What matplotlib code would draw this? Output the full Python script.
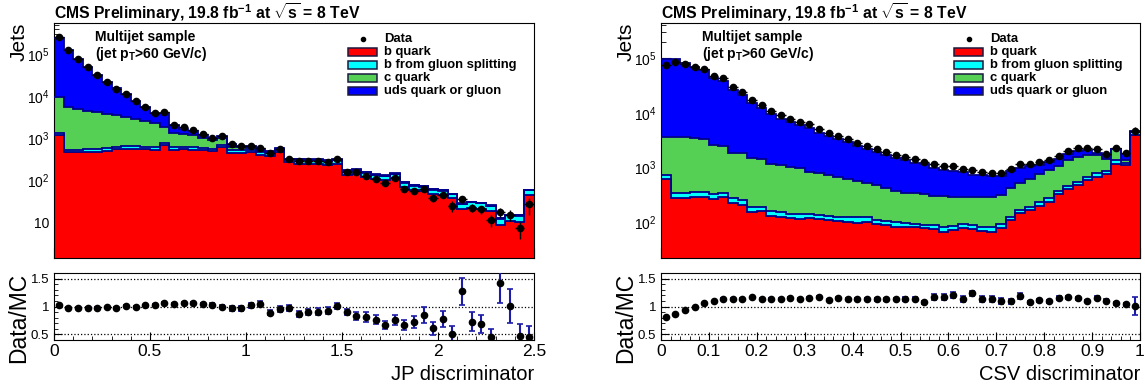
import numpy as np
import matplotlib
matplotlib.use('Agg')
import matplotlib.pyplot as plt
from matplotlib.patches import Rectangle
from matplotlib.ticker import MultipleLocator, FixedLocator, LogLocator, FuncFormatter, NullFormatter

plt.rcParams['font.family'] = ['Liberation Sans', 'DejaVu Sans']
plt.rcParams['mathtext.fontset'] = 'custom'
plt.rcParams['mathtext.rm'] = 'Liberation Sans:bold'
plt.rcParams['mathtext.it'] = 'Liberation Sans:bold'
plt.rcParams['mathtext.bf'] = 'Liberation Sans:bold'

# ---- JP discriminator: 50 bins from 0 to 2.5 ----
jp_edges = np.linspace(0, 2.5, 51)
jp_b = [1175, 458, 456, 465, 472, 500, 537, 557, 557, 537,
        528, 670, 528, 537, 528, 509, 482, 600, 440, 450,
        455, 400, 375, 460, 270, 245, 240, 236, 228, 237,
        132, 140, 121, 106, 99, 110, 69, 59, 55, 47,
        44, 37, 20.5, 22, 21, 18, 8.6, 10.4, 10.2, 45]
jp_gsp = [165, 70, 72, 72, 75, 78, 85, 89, 89, 85,
          83, 106, 83, 85, 83, 80, 75, 95, 70, 70,
          70, 62, 58, 65, 38, 62, 61, 60, 58, 60,
          33, 35, 30, 27, 24, 28, 17, 15, 14, 12,
          11, 9, 6.5, 7.5, 7, 6, 3.4, 4, 4, 12.5]
jp_c = [8320, 4850, 4290, 3940, 3540, 3220, 2850, 2570, 2240, 1970,
        1710, 1094, 679, 598, 549, 411, 343, 305, 110, 80,
        60, 45, 40, 35, 5, 8, 8, 8, 7, 7,
        4, 4, 4, 3, 3, 3, 2, 2, 2, 2,
        2, 1, 0.5, 0.5, 0.5, 0.5, 0.3, 0.3, 0.3, 1]
jp_uds = [234000, 122600, 72800, 44500, 28100, 18300, 12000, 7880, 4810, 2910,
          1550, 2060, 710, 470, 300, 200, 85, 100, 113, 66,
          58, 33, 29, 26, 5, 7, 7, 7, 7, 7,
          4, 4, 3, 3, 3, 3, 2, 1, 1, 1,
          1, 1, 0.5, 0.5, 0.5, 0.5, 0.2, 0.3, 0.2, 0.5]
jp_ratio = [1.02, 0.98, 0.98, 0.98, 0.98, 0.99, 0.98, 1.01, 1.0, 1.02,
            1.035, 1.07, 1.05, 1.065, 1.065, 1.04, 1.035, 1.0, 0.965, 0.97,
            1.02, 1.05, 0.89, 0.95, 0.975, 0.865, 0.9, 0.905, 0.925, 1.01,
            0.9, 0.835, 0.81, 0.765, 0.665, 0.765, 0.67, 0.725, 0.845, 0.61,
            0.78, 0.505, 1.27, 0.73, 0.69, 0.45, 1.42, 1.01, 0.48, 0.45]
jp_ratio_err = [0.005, 0.005, 0.006, 0.007, 0.008, 0.009, 0.01, 0.011, 0.012, 0.013,
                0.015, 0.014, 0.018, 0.02, 0.02, 0.022, 0.025, 0.025, 0.045, 0.045,
                0.04, 0.045, 0.05, 0.055, 0.05, 0.06, 0.055, 0.06, 0.06, 0.06,
                0.06, 0.07, 0.09, 0.085, 0.075, 0.09, 0.09, 0.11, 0.14, 0.115,
                0.14, 0.15, 0.24, 0.17, 0.165, 0.15, 0.35, 0.3, 0.21, 0.2]

# ---- CSV discriminator: 50 bins from 0 to 1 ----
csv_edges = np.linspace(0, 1, 51)
csv_b = [603, 271, 271, 290, 290, 260, 282, 226, 205, 155,
         161, 129, 125, 118, 115, 117, 112, 109, 104, 100,
         98, 102, 91, 87, 82, 82, 80, 77, 75, 65,
         71, 77, 75, 69, 65, 77, 109, 144, 166, 199,
         235, 324, 401, 475, 586, 675, 755, 1180, 1090, 3900]
csv_gsp = [122, 73, 73, 66, 66, 65, 62, 45, 47, 30,
           29, 30, 25, 22, 25, 23, 22, 20, 21, 22,
           24, 23, 18, 17, 19, 13, 13, 12, 14, 15,
           13, 16, 14, 13, 15, 16, 16, 22, 25, 30,
           36, 50, 61, 71, 89, 102, 113, 180, 120, 520]
csv_c = [2915, 3246, 3196, 3084, 2984, 2235, 2136, 1579, 1548, 1275,
         1210, 1021, 980, 860, 820, 694, 666, 596, 550, 481,
         448, 384, 366, 309, 274, 246, 241, 234, 216, 216,
         203, 190, 194, 201, 210, 219, 288, 343, 412, 526,
         623, 696, 898, 978, 1005, 903, 532, 773, 150, 120]
csv_uds = [91360, 94110, 77960, 65260, 57660, 40440, 35820, 24050, 19700, 13540,
           10900, 8380, 6700, 5660, 5090, 4476, 3450, 3045, 2625, 2357,
           1900, 1681, 1465, 1267, 1105, 1003, 894, 824, 674, 604,
           587, 539, 441, 431, 414, 394, 443, 457, 453, 371,
           355, 351, 371, 467, 402, 186, 209, 27, 422, 100]
csv_ratio = [0.805, 0.865, 0.94, 0.995, 1.06, 1.09, 1.14, 1.14, 1.14, 1.165,
             1.14, 1.14, 1.14, 1.15, 1.13, 1.15, 1.165, 1.11, 1.15, 1.13,
             1.14, 1.135, 1.13, 1.13, 1.135, 1.135, 1.14, 1.075, 1.175, 1.175,
             1.21, 1.135, 1.235, 1.135, 1.135, 1.1, 1.09, 1.19, 1.075, 1.11,
             1.09, 1.15, 1.165, 1.15, 1.1, 1.16, 1.105, 1.06, 1.04, 1.01]
csv_ratio_err = [0.004, 0.004, 0.004, 0.005, 0.005, 0.006, 0.006, 0.008, 0.008, 0.01,
                 0.01, 0.012, 0.013, 0.014, 0.015, 0.016, 0.017, 0.018, 0.019, 0.02,
                 0.021, 0.022, 0.024, 0.025, 0.026, 0.028, 0.029, 0.03, 0.05, 0.05,
                 0.05, 0.05, 0.05, 0.05, 0.05, 0.05, 0.05, 0.05, 0.03, 0.03,
                 0.03, 0.03, 0.025, 0.025, 0.025, 0.025, 0.025, 0.025, 0.025, 0.16]

labels = ['b quark', 'b from gluon splitting', 'c quark', 'uds quark or gluon']
colors = ['#ff0000', '#00ffff', '#55d055', '#0000ff']
edge_col = '#00008b'
title = r'CMS Preliminary, 19.8 fb$^{-1}$ at $\sqrt{s}$ = 8 TeV'


def log_label(v, pos):
    n = int(round(np.log10(v)))
    if n == 1:
        return '10'
    return r'$\mathdefault{10^{%d}}$' % n


def draw(top, rat, edges, parts, ratio, ratio_err, ylim, xlabel, major, minor):
    ratio = np.array(ratio)
    ratio_err = np.array(ratio_err)
    layers = np.cumsum(np.array(parts, dtype=float), axis=0)
    total = layers[-1]
    centers = 0.5 * (edges[1:] + edges[:-1])
    half = 0.5 * (edges[1] - edges[0])

    # stacked histograms, drawn from the outermost layer inwards
    for vals, col in zip(layers[::-1], colors[::-1]):
        top.stairs(vals, edges, baseline=ylim[0] * 0.5, fill=True, color=col, zorder=2)
        top.stairs(vals, edges, baseline=None, color=edge_col, lw=1.3, zorder=3)

    data = ratio * total
    top.errorbar(centers, data, xerr=half, yerr=ratio_err * total, fmt='o',
                 color='k', ms=4.5, lw=1, capsize=0, zorder=5)

    top.set_yscale('log')
    top.set_xlim(edges[0], edges[-1])
    top.set_ylim(*ylim)
    top.yaxis.set_major_locator(FixedLocator([10, 1e2, 1e3, 1e4, 1e5]))
    top.yaxis.set_major_formatter(FuncFormatter(log_label))
    top.yaxis.set_minor_locator(LogLocator(base=10, subs=np.arange(2, 10)))
    top.yaxis.set_minor_formatter(NullFormatter())
    top.xaxis.set_major_locator(MultipleLocator(major))
    top.xaxis.set_minor_locator(MultipleLocator(minor))
    top.tick_params(which='both', direction='in', top=False, right=False,
                    labelbottom=False, labelsize=10)
    top.tick_params(which='major', length=7)
    top.tick_params(which='minor', length=3.5)
    top.set_ylabel('Jets', fontsize=15, loc='top')
    top.yaxis.set_label_coords(-0.052, 1.0)

    top.text(0, 1.018, title, transform=top.transAxes, fontsize=11.3,
             fontweight='bold', ha='left', va='baseline')
    top.text(0.085, 0.94, 'Multijet sample', transform=top.transAxes,
             fontsize=10, fontweight='bold', va='center')
    top.text(0.085, 0.868, r'(jet p$_{\rm T}$>60 GeV/c)', transform=top.transAxes,
             fontsize=10, fontweight='bold', va='center')

    # legend
    rows = [0.932, 0.877, 0.821, 0.766, 0.711]
    top.plot(0.6435, rows[0], 'o', color='k', ms=3, transform=top.transAxes, zorder=6)
    top.text(0.6875, rows[0], 'Data', transform=top.transAxes, fontsize=9.4,
             fontweight='bold', va='center')
    for yy, lab, col in zip(rows[1:], labels, colors):
        top.add_patch(Rectangle((0.6125, yy - 0.016), 0.06, 0.032, transform=top.transAxes,
                                facecolor=col, edgecolor='#1a1a40', lw=1.1, zorder=6))
        top.text(0.6875, yy, lab, transform=top.transAxes, fontsize=9.4,
                 fontweight='bold', va='center')

    # ratio panel
    for y in (0.5, 1.0, 1.5):
        rat.axhline(y, color='k', ls=':', lw=0.9, zorder=1)
    rat.errorbar(centers, ratio, yerr=ratio_err, fmt='o', color='k', ecolor='#1c1ca8',
                 ms=4.5, elinewidth=1.5, capsize=2, capthick=1.2, zorder=4)
    rat.set_xlim(edges[0], edges[-1])
    rat.set_ylim(0.4, 1.6)
    rat.yaxis.set_major_locator(FixedLocator([0.5, 1.0, 1.5]))
    rat.yaxis.set_major_formatter(FuncFormatter(lambda v, p: '%g' % v))
    rat.yaxis.set_minor_locator(MultipleLocator(0.1))
    rat.xaxis.set_major_locator(MultipleLocator(major))
    rat.xaxis.set_major_formatter(FuncFormatter(lambda v, p: '%g' % v))
    rat.xaxis.set_minor_locator(MultipleLocator(minor))
    rat.tick_params(which='both', direction='in', top=False, right=False)
    rat.tick_params(axis='y', labelsize=9.5)
    rat.tick_params(axis='x', labelsize=12.5, pad=3)
    rat.tick_params(which='major', length=6)
    rat.tick_params(which='minor', length=3)
    rat.set_ylabel('Data/MC', fontsize=16.5, loc='top')
    rat.yaxis.set_label_coords(-0.05, 1.0)
    rat.set_xlabel(xlabel, fontsize=14.5, loc='right')
    rat.xaxis.set_label_coords(1.0, -0.37)


fig = plt.figure(figsize=(11.45, 3.87), dpi=100)
ax1 = fig.add_axes([54 / 1145, 1 - 258 / 387, 480 / 1145, 235 / 387])
ax1r = fig.add_axes([54 / 1145, 1 - 340 / 387, 480 / 1145, 67 / 387])
ax2 = fig.add_axes([661 / 1145, 1 - 258 / 387, 479 / 1145, 235 / 387])
ax2r = fig.add_axes([661 / 1145, 1 - 340 / 387, 479 / 1145, 67 / 387])

draw(ax1, ax1r, jp_edges, [jp_b, jp_gsp, jp_c, jp_uds], jp_ratio, jp_ratio_err,
     (1.4, 5.5e5), 'JP discriminator', 0.5, 0.1)
draw(ax2, ax2r, csv_edges, [csv_b, csv_gsp, csv_c, csv_uds], csv_ratio, csv_ratio_err,
     (22, 4.4e5), 'CSV discriminator', 0.1, 0.02)

fig.savefig('out.png', dpi=100)
